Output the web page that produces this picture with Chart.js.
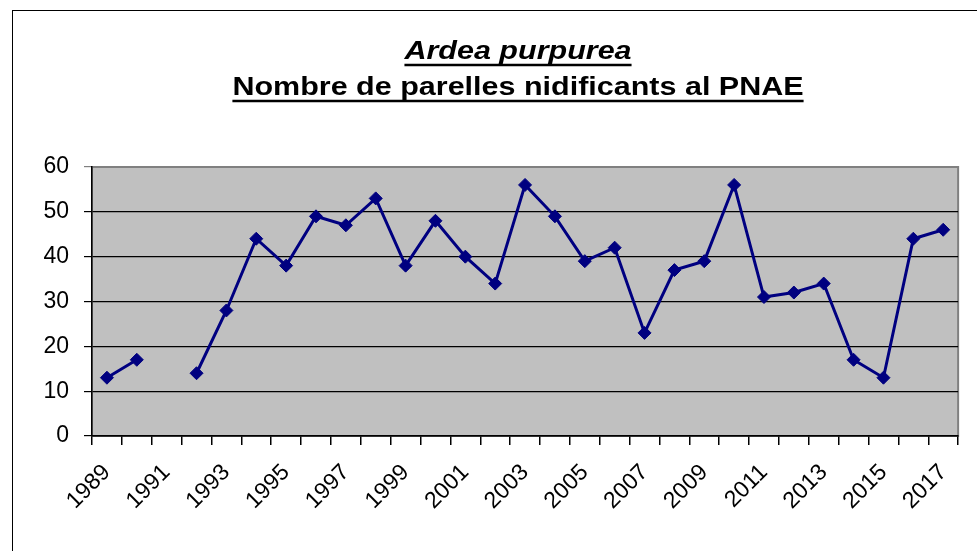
<!DOCTYPE html>
<html>
<head>
<meta charset="utf-8">
<script src="https://cdn.jsdelivr.net/npm/chart.js@4"></script>
<style>
  html, body { margin: 0; padding: 0; background: #fff; }
  #wrap { width: 977px; height: 551px; }
</style>
</head>
<body>
<div id="wrap"><canvas id="chart" width="977" height="551"></canvas></div>
<script>
var years = ['1989', '1990', '1991', '1992', '1993', '1994', '1995', '1996', '1997', '1998',
  '1999', '2000', '2001', '2002', '2003', '2004', '2005', '2006', '2007', '2008',
  '2009', '2010', '2011', '2012', '2013', '2014', '2015', '2016', '2017'];
var parelles = [13, 17, null, 14, 28, 44, 38, 49, 47, 53,
  38, 48, 40, 34, 56, 49, 39, 42, 23, 37,
  39, 56, 31, 32, 34, 17, 13, 44, 46];
var yTicks = [0, 10, 20, 30, 40, 50, 60];
var titleLine1 = 'Ardea purpurea';
var titleLine2 = 'Nombre de parelles nidificants al PNAE';

// background, outer frame, grey plot area and the underlined two-line title
var framePlugin = {
  id: 'frame',
  beforeDraw: function(chart) {
    var ctx = chart.ctx;
    var a = chart.chartArea;
    ctx.save();
    ctx.fillStyle = '#fff';
    ctx.fillRect(0, 0, chart.width, chart.height);
    ctx.strokeStyle = '#000';
    ctx.lineWidth = 1;
    ctx.strokeRect(12.5, 10.5, chart.width + 10, chart.height + 10);
    ctx.fillStyle = '#c0c0c0';
    ctx.fillRect(a.left, a.top, a.right - a.left, a.bottom - a.top);
    ctx.strokeStyle = '#808080';
    ctx.lineWidth = 2;
    ctx.strokeRect(a.left, a.top, a.right - a.left, a.bottom - a.top);
    ctx.restore();
  },
  afterDraw: function(chart) {
    var ctx = chart.ctx;
    var cx = 518;
    var stretch = 1.22;
    ctx.save();
    ctx.fillStyle = '#000';
    ctx.strokeStyle = '#000';
    ctx.lineWidth = 2.5;
    ctx.textAlign = 'center';
    ctx.textBaseline = 'alphabetic';
    var lines = [
      { text: titleLine1, font: 'italic bold 25px "Liberation Sans", Arial, sans-serif', y: 59 },
      { text: titleLine2, font: 'bold 25px "Liberation Sans", Arial, sans-serif', y: 95 }
    ];
    lines.forEach(function(l) {
      ctx.save();
      ctx.translate(cx, 0);
      ctx.scale(stretch, 1);
      ctx.font = l.font;
      ctx.fillText(l.text, 0, l.y);
      var w = ctx.measureText(l.text).width;
      ctx.restore();
      ctx.beginPath();
      ctx.moveTo(cx - w * stretch / 2, l.y + 6);
      ctx.lineTo(cx + w * stretch / 2, l.y + 6);
      ctx.stroke();
    });
    ctx.restore();
  }
};

var ctx = document.getElementById('chart').getContext('2d');
var chart = new Chart(ctx, {
  type: 'line',
  data: {
    labels: years,
    datasets: [{
      label: 'Parelles',
      data: parelles,
      borderColor: '#000080',
      backgroundColor: '#000080',
      borderWidth: 3,
      pointStyle: 'rectRot',
      pointRadius: 6.5,
      pointBackgroundColor: '#000080',
      pointBorderColor: '#000080',
      pointBorderWidth: 1,
      spanGaps: false,
      tension: 0
    }]
  },
  options: {
    responsive: false,
    animation: false,
    layout: { padding: { top: 167, right: 17, left: 0, bottom: 0 } },
    plugins: {
      legend: { display: false },
      title: { display: false },
      tooltip: { enabled: false }
    },
    scales: {
      x: {
        offset: true,
        afterFit: function(scale) { scale.height = 115; },
        border: { color: '#000', width: 1.5 },
        grid: {
          offset: true,
          drawOnChartArea: false,
          drawTicks: true,
          tickLength: 9,
          color: '#000',
          lineWidth: 1.5
        },
        ticks: {
          autoSkip: false,
          maxRotation: 45,
          minRotation: 45,
          padding: 14,
          color: '#000',
          font: { family: '"Liberation Sans", Arial, sans-serif', size: 23 },
          callback: function(val, i) {
            return i % 2 === 0 ? years[i] : '';
          }
        }
      },
      y: {
        min: yTicks[0],
        max: yTicks[yTicks.length - 1],
        afterFit: function(scale) { scale.width = 92; },
        afterBuildTicks: function(scale) {
          scale.ticks = yTicks.map(function(v) { return { value: v }; });
        },
        border: { color: '#000', width: 1.5 },
        grid: {
          color: function(c) { return c.tick && c.tick.value === 60 ? '#808080' : '#000'; },
          lineWidth: 1.2,
          tickLength: 8
        },
        ticks: {
          padding: 15,
          color: '#000',
          font: { family: '"Liberation Sans", Arial, sans-serif', size: 23 }
        }
      }
    }
  },
  plugins: [framePlugin]
});
</script>
</body>
</html>
